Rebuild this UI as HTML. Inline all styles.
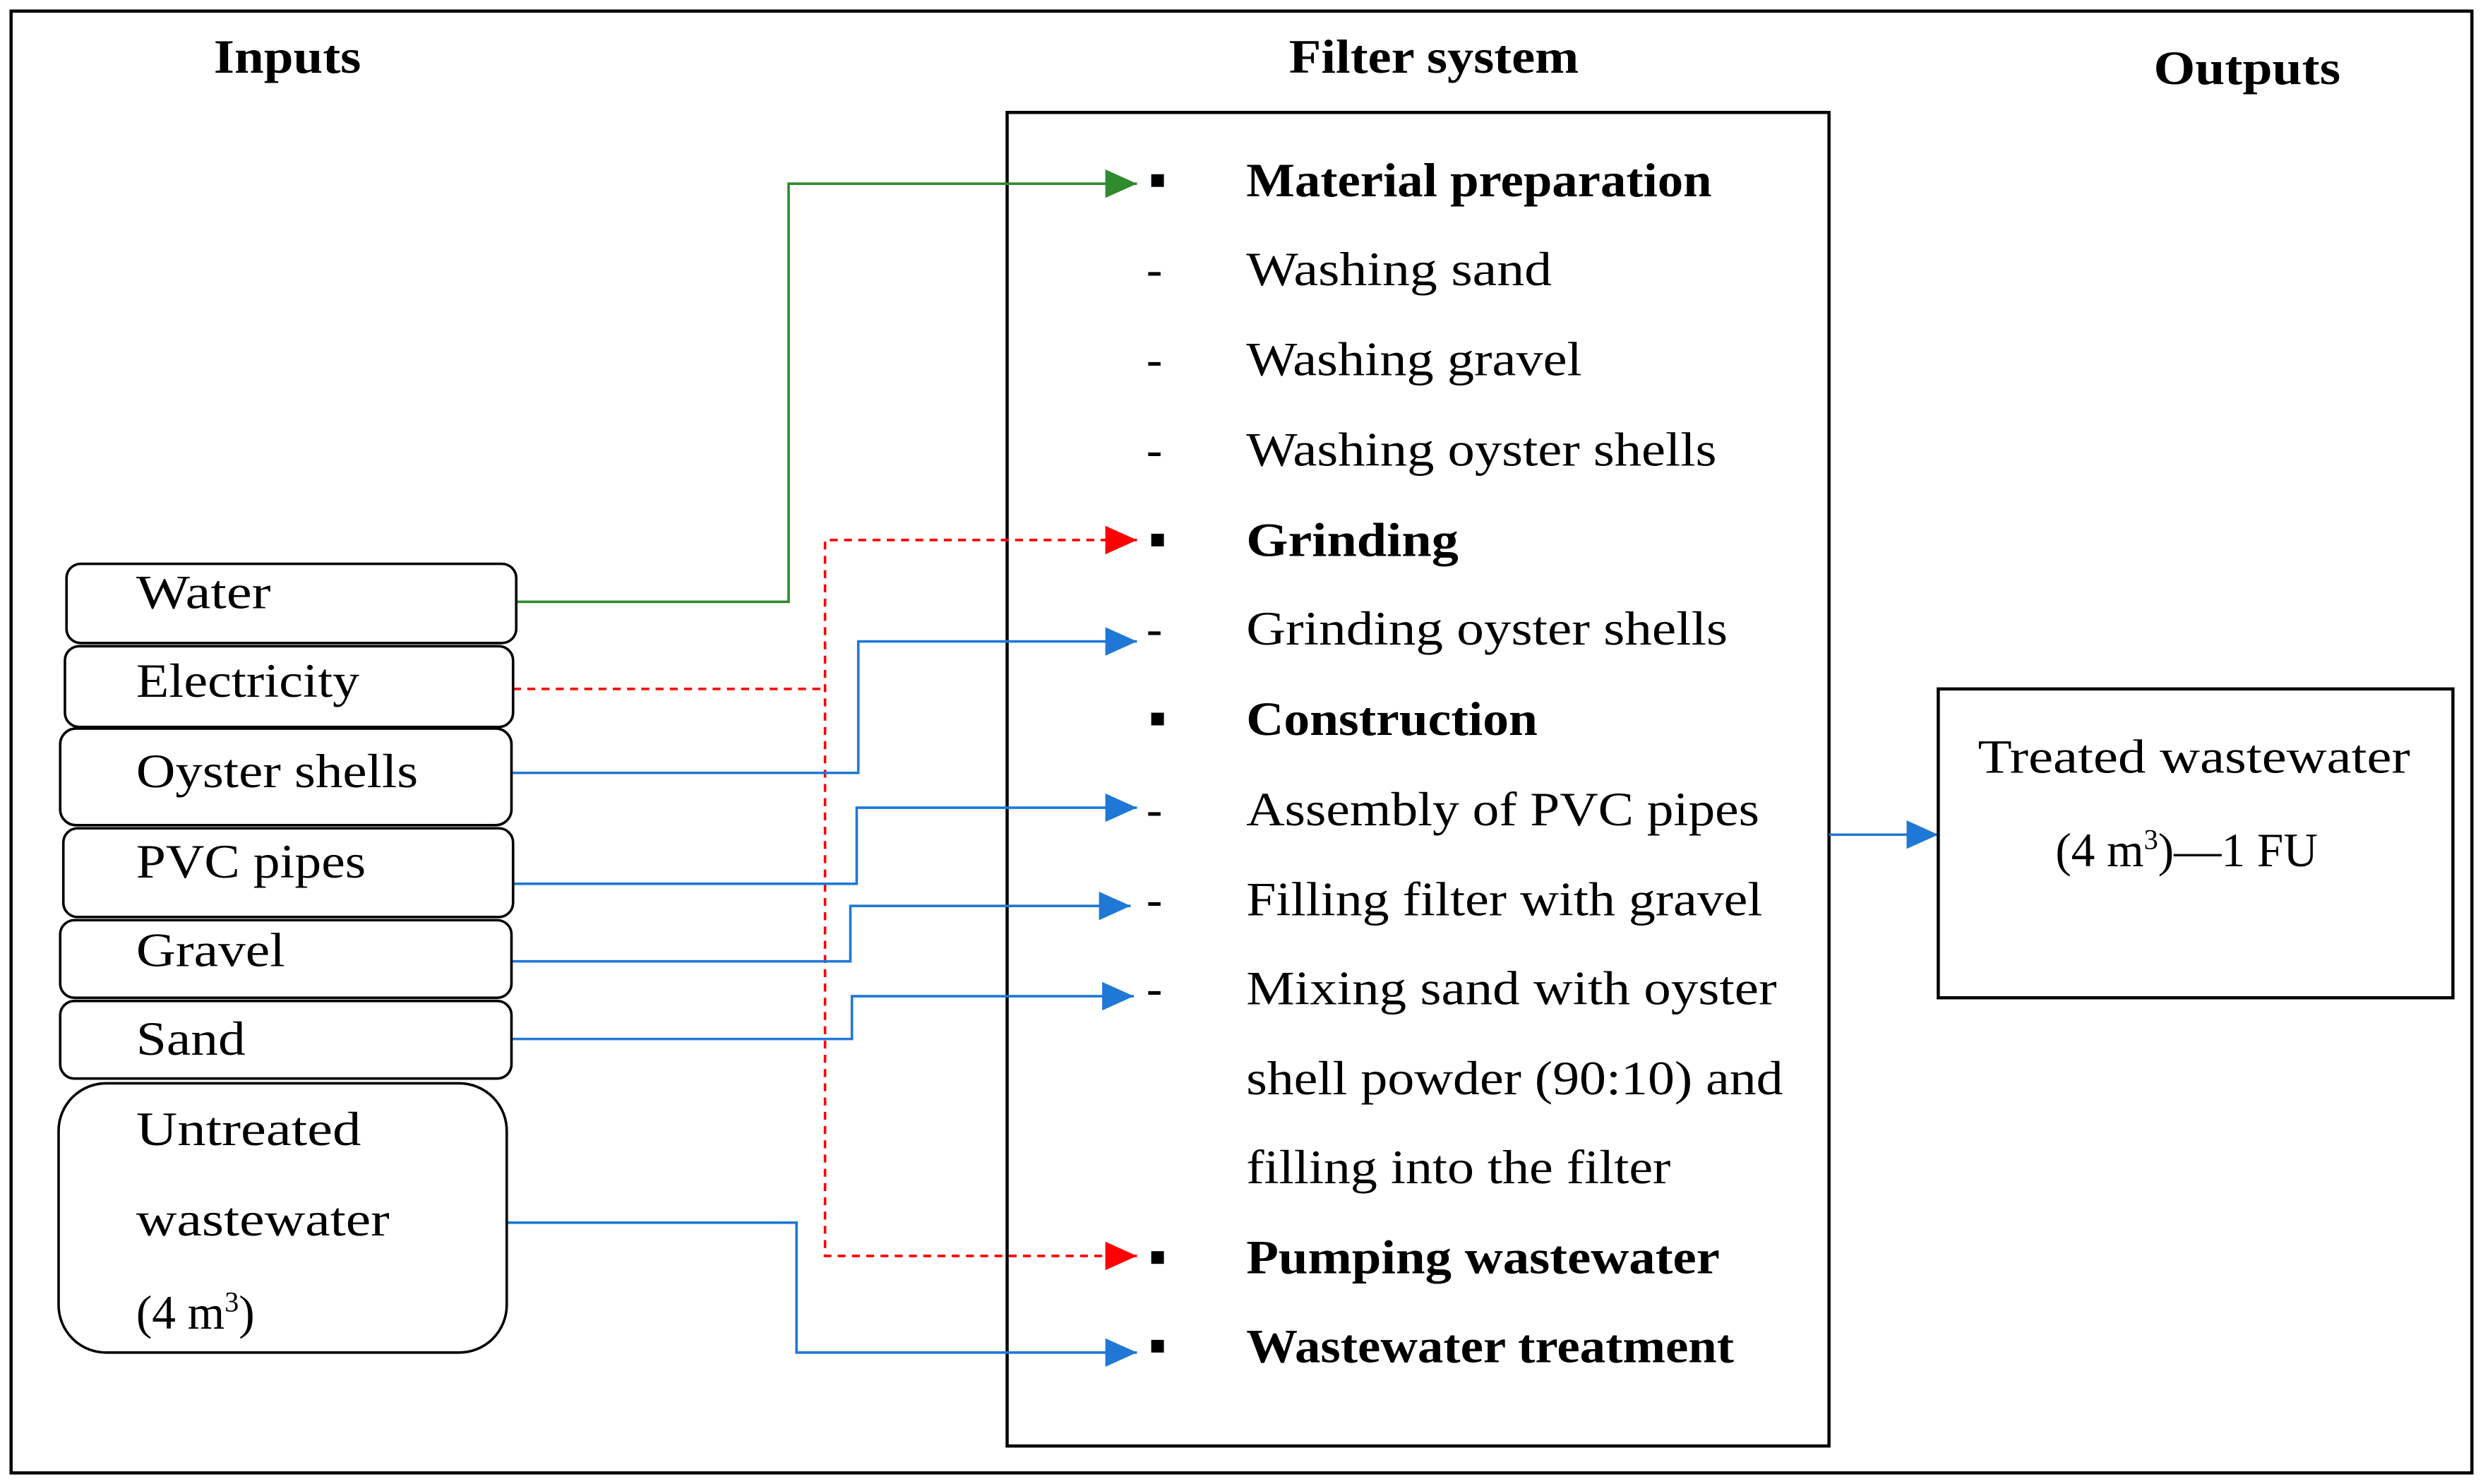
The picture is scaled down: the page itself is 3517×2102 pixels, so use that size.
<!DOCTYPE html>
<html><head><meta charset="utf-8"><style>
html,body{margin:0;padding:0;background:#fff;}
svg{display:block;}
text{font-family:"Liberation Serif",serif;font-size:30px;fill:#000;}
.b{font-weight:bold;}
</style></head><body>
<svg width="3517" height="2102" viewBox="0 0 1568 937" preserveAspectRatio="none" xmlns="http://www.w3.org/2000/svg">
<defs>
<marker id="ab" markerWidth="20" markerHeight="18" refX="20" refY="9" orient="auto" markerUnits="userSpaceOnUse" viewBox="0 0 20 18"><path d="M0,0 L20,9 L0,18z" fill="#1f78d6"/></marker>
<marker id="ag" markerWidth="20" markerHeight="18" refX="20" refY="9" orient="auto" markerUnits="userSpaceOnUse" viewBox="0 0 20 18"><path d="M0,0 L20,9 L0,18z" fill="#2e8b2e"/></marker>
<marker id="ar" markerWidth="20" markerHeight="18" refX="20" refY="9" orient="auto" markerUnits="userSpaceOnUse" viewBox="0 0 20 18"><path d="M0,0 L20,9 L0,18z" fill="#ff0000"/></marker>
</defs>
<rect x="0" y="0" width="1568" height="937" fill="#fff"/>
<rect x="7" y="7" width="1554" height="923" fill="none" stroke="#000" stroke-width="2"/>
<text class="b" x="135" y="46" textLength="93" lengthAdjust="spacingAndGlyphs">Inputs</text>
<text class="b" x="814" y="46" textLength="183" lengthAdjust="spacingAndGlyphs">Filter system</text>
<text class="b" x="1360" y="53" textLength="118" lengthAdjust="spacingAndGlyphs">Outputs</text>
<rect x="636" y="71" width="519" height="842" fill="none" stroke="#000" stroke-width="2"/>
<g fill="none" stroke-width="1.6">
<polyline points="326,380 498,380 498,116 718,116" stroke="#2e8b2e" marker-end="url(#ag)"/>
<polyline points="324,435 521,435" stroke="#ff0000" stroke-dasharray="5,4"/>
<polyline points="700,341 521,341 521,793 700,793" stroke="#ff0000" stroke-dasharray="5,4"/>
<path d="M698,341 L718,341" stroke="#ff0000" marker-end="url(#ar)"/>
<path d="M698,793 L718,793" stroke="#ff0000" marker-end="url(#ar)"/>
<polyline points="323,488 542,488 542,405 718,405" stroke="#1f78d6" marker-end="url(#ab)"/>
<polyline points="324,558 541,558 541,510 718,510" stroke="#1f78d6" marker-end="url(#ab)"/>
<polyline points="323,607 537,607 537,572 714,572" stroke="#1f78d6" marker-end="url(#ab)"/>
<polyline points="323,656 538,656 538,629 716,629" stroke="#1f78d6" marker-end="url(#ab)"/>
<polyline points="320,772 503,772 503,854 718,854" stroke="#1f78d6" marker-end="url(#ab)"/>
<polyline points="1155,527 1224,527" stroke="#1f78d6" marker-end="url(#ab)"/>
</g>
<g fill="#fff" stroke="#000" stroke-width="1.6">
<rect x="42" y="356" width="284" height="50" rx="9"/>
<rect x="41" y="408" width="283" height="51" rx="9"/>
<rect x="38" y="460" width="285" height="61" rx="10"/>
<rect x="40" y="523" width="284" height="56" rx="9"/>
<rect x="38" y="581" width="285" height="49" rx="9"/>
<rect x="38" y="632" width="285" height="49" rx="9"/>
<rect x="37" y="684" width="283" height="170" rx="30"/>
<rect x="1224" y="435" width="325" height="195" stroke-width="2"/>
</g>
<text x="86" y="384" textLength="85" lengthAdjust="spacingAndGlyphs">Water</text>
<text x="86" y="440" textLength="141" lengthAdjust="spacingAndGlyphs">Electricity</text>
<text x="86" y="497" textLength="178" lengthAdjust="spacingAndGlyphs">Oyster shells</text>
<text x="86" y="554" textLength="145" lengthAdjust="spacingAndGlyphs">PVC pipes</text>
<text x="86" y="610" textLength="94" lengthAdjust="spacingAndGlyphs">Gravel</text>
<text x="86" y="666" textLength="69" lengthAdjust="spacingAndGlyphs">Sand</text>
<text x="86" y="723" textLength="142" lengthAdjust="spacingAndGlyphs">Untreated</text>
<text x="86" y="780" textLength="160" lengthAdjust="spacingAndGlyphs">wastewater</text>
<text x="86" y="839">(4 m<tspan font-size="18" dy="-11">3</tspan><tspan dy="11">)</tspan></text>
<text x="1249" y="488" textLength="273" lengthAdjust="spacingAndGlyphs">Treated wastewater</text>
<text x="1298" y="547">(4 m<tspan font-size="18" dy="-11">3</tspan><tspan dy="11">)—1 FU</tspan></text>
<g>
<rect x="727" y="110" width="8" height="8"/>
<rect x="727" y="337" width="8" height="8"/>
<rect x="727" y="450" width="8" height="8"/>
<rect x="727" y="790" width="8" height="8"/>
<rect x="727" y="846" width="8" height="8"/>
</g>
<g>
<text x="724" y="180">-</text><text x="724" y="237">-</text><text x="724" y="294">-</text>
<text x="724" y="407">-</text><text x="724" y="521">-</text><text x="724" y="578">-</text><text x="724" y="634">-</text>
</g>
<text class="b" x="787" y="124" textLength="294" lengthAdjust="spacingAndGlyphs">Material preparation</text>
<text x="787" y="180" textLength="193" lengthAdjust="spacingAndGlyphs">Washing sand</text>
<text x="787" y="237" textLength="212" lengthAdjust="spacingAndGlyphs">Washing gravel</text>
<text x="787" y="294" textLength="297" lengthAdjust="spacingAndGlyphs">Washing oyster shells</text>
<text class="b" x="787" y="351" textLength="134" lengthAdjust="spacingAndGlyphs">Grinding</text>
<text x="787" y="407" textLength="304" lengthAdjust="spacingAndGlyphs">Grinding oyster shells</text>
<text class="b" x="787" y="464" textLength="184" lengthAdjust="spacingAndGlyphs">Construction</text>
<text x="787" y="521" textLength="324" lengthAdjust="spacingAndGlyphs">Assembly of PVC pipes</text>
<text x="787" y="578" textLength="326" lengthAdjust="spacingAndGlyphs">Filling filter with gravel</text>
<text x="787" y="634" textLength="335" lengthAdjust="spacingAndGlyphs">Mixing sand with oyster</text>
<text x="787" y="691" textLength="339" lengthAdjust="spacingAndGlyphs">shell powder (90:10) and</text>
<text x="787" y="747" textLength="268" lengthAdjust="spacingAndGlyphs">filling into the filter</text>
<text class="b" x="787" y="804" textLength="299" lengthAdjust="spacingAndGlyphs">Pumping wastewater</text>
<text class="b" x="787" y="860" textLength="308" lengthAdjust="spacingAndGlyphs">Wastewater treatment</text>
</svg>
</body></html>
